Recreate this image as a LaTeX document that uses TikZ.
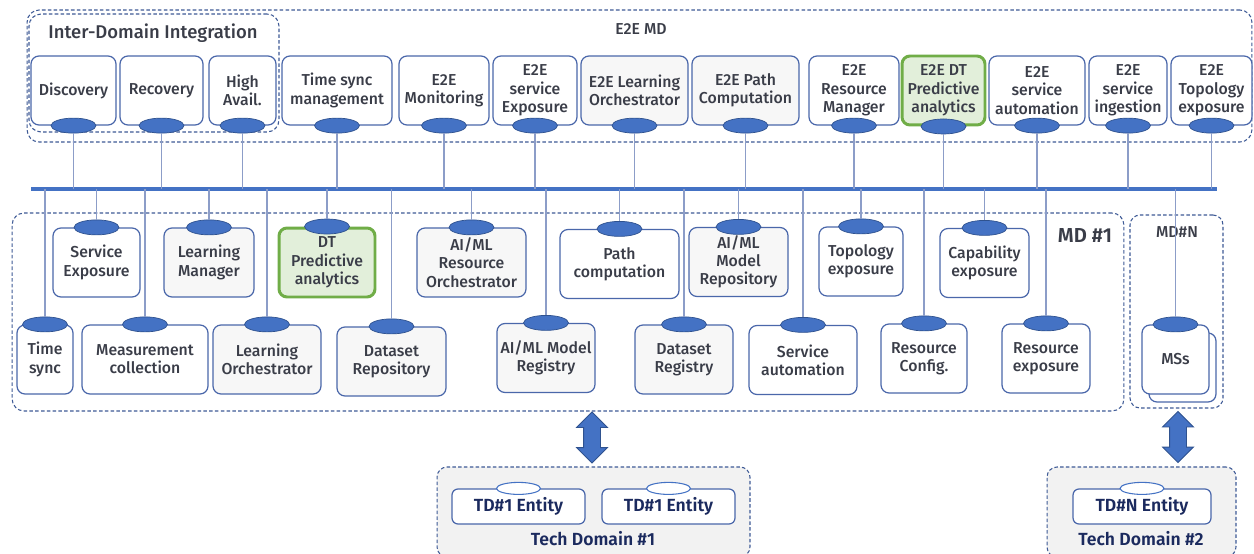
\documentclass[tikz,border=0pt]{standalone}
\usepackage{fontspec}
\setmainfont{Fira Sans}[UprightFont=* Medium, BoldFont=* SemiBold]
\usetikzlibrary{shapes.geometric, shapes.arrows}
\definecolor{boxline}{HTML}{4A67AA}
\definecolor{portfill}{HTML}{4472C4}
\definecolor{portline}{HTML}{2F528F}
\definecolor{txtgray}{HTML}{3A3D48}
\definecolor{navy}{HTML}{1B2A5E}
\definecolor{dtgreen}{HTML}{70AD47}
\definecolor{dtfill}{HTML}{E2EFDA}
\definecolor{wire}{HTML}{8C9DC8}
\definecolor{tdfill}{HTML}{F2F2F2}
\definecolor{dashline}{HTML}{3E5A96}
\tikzset{
    every node/.style = {font=\fontsize{9}{10.4}\selectfont, text=txtgray, align=center},
    func/.style = {draw=boxline, line width=0.7pt, rounded corners=0.16cm, fill=white,
        inner sep=1pt, minimum height=1.38cm},
    boxw/.style = {minimum width=#1cm},
    learn/.style = {func, fill=gray!6},
    dtbox/.style = {func, draw=dtgreen, line width=1.7pt, fill=dtfill},
    port/.style = {ellipse, draw=portline, line width=0.4pt, fill=portfill,
        minimum width=0.9cm, minimum height=0.3cm, inner sep=0pt},
    mdzone/.style = {draw=dashline, dash pattern=on 2pt off 1.3pt, line width=0.6pt,
        rounded corners=0.24cm, inner sep=0pt},
    bus/.style = {draw=portfill, line width=1.8pt},
    link/.style = {draw=wire, line width=0.6pt},
    updown/.style = {double arrow, rotate=90, draw=portline, line width=0.5pt, fill=portfill,
        minimum height=1.02cm, minimum width=0.6cm, double arrow head extend=0.14cm,
        inner xsep=0pt, inner ysep=0.16cm},
    techdom/.style = {mdzone, fill=tdfill, rounded corners=0.2cm},
    entity/.style = {draw=boxline, line width=0.7pt, rounded corners=0.12cm, fill=white,
        minimum height=0.7cm, text=navy, font=\fontsize{10}{12}\selectfont\bfseries},
    tdport/.style = {ellipse, draw=portfill, line width=0.6pt, fill=white,
        minimum width=0.88cm, minimum height=0.24cm, inner sep=0pt},
    tdlabel/.style = {text=navy, font=\fontsize{10}{12}\selectfont\bfseries}
}

\begin{document}
\begin{tikzpicture}[x=0.02cm, y=-0.02cm]
    \useasboundingbox[fill=white] (0,0) rectangle (1254,554);

    % domains
    \node[mdzone, minimum width=24.5cm, minimum height=2.64cm] (e2emd) at (639.5,76) {};
    \node[mdzone, minimum width=5cm, minimum height=2.36cm] (idi) at (154,73) {};
    \node[mdzone, minimum width=22.24cm, minimum height=3.96cm] (md1) at (568,312) {};
    \node[mdzone, minimum width=1.86cm, minimum height=3.86cm, rounded corners=0.2cm] (mdn) at (1176.5,311.5) {};
    \node (idiL) at (153,33) {\fontsize{10.5}{12}\selectfont Inter-Domain Integration};
    \node (e2eL) at (641,29) {E2E MD};
    \node (md1L) at (1085,236) {\fontsize{11.5}{13}\selectfont\bfseries MD \#1};
    \node (mdnL) at (1177,232) {MD\#N};

    % E2E MD functions
    \node[func, boxw=1.70] (disc) at (73.5,90.5) {Discovery};
    \node[func, boxw=1.66] (reco) at (161.5,90.5) {Recovery};
    \node[func, boxw=1.34] (havl) at (242.5,90.5) {High\\Avail.};
    \node[func, boxw=2.20] (tsm) at (337,90.5) {Time sync\\management};
    \node[func, boxw=1.80] (mon) at (444,90.5) {E2E\\Monitoring};
    \node[func, boxw=1.68] (sexp) at (535,90.5) {E2E\\service\\Exposure};
    \node[learn, boxw=2.14] (elo) at (634.5,90.5) {E2E Learning\\Orchestrator};
    \node[learn, boxw=2.14] (epc) at (745.5,90.5) {E2E Path\\Computation};
    \node[func, boxw=1.80] (erm) at (854,90.5) {E2E\\Resource\\Manager};
    \node[dtbox, boxw=1.66] (edt) at (943.5,90.5) {E2E DT\\Predictive\\analytics};
    \node[func, boxw=1.92] (esa) at (1037,90.5) {E2E\\service\\automation};
    \node[func, boxw=1.56] (esi) at (1128,90.5) {E2E\\service\\ingestion};
    \node[func, boxw=1.62] (ete) at (1211.5,90.5) {E2E\\Topology\\exposure};

    \node[port] (discP) at (disc.south) {};
    \node[port] (recoP) at (reco.south) {};
    \node[port] (havlP) at (havl.south) {};
    \node[port] (tsmP) at (tsm.south) {};
    \node[port] (monP) at (mon.south) {};
    \node[port] (sexpP) at (sexp.south) {};
    \node[port] (eloP) at (elo.south) {};
    \node[port] (epcP) at (epc.south) {};
    \node[port] (ermP) at (erm.south) {};
    \node[port] (edtP) at (edt.south) {};
    \node[port] (esaP) at (esa.south) {};
    \node[port] (esiP) at (esi.south) {};
    \node[port] (eteP) at (ete.south) {};

    % MD #1 functions
    \node[func, boxw=1.74] (svc) at (96.5,262.5) {Service\\Exposure};
    \node[learn, boxw=1.80] (lmgr) at (209,262.5) {Learning\\Manager};
    \node[dtbox, boxw=1.92] (dtp) at (327,262.5) {DT\\Predictive\\analytics};
    \node[learn, boxw=2.18] (aro) at (471.5,262.5) {AI/ML\\Resource\\Orchestrator};
    \node[func, boxw=2.38] (pc) at (619.5,264) {Path\\computation};
    \node[learn, boxw=1.98] (amr) at (738.5,262) {AI/ML\\Model\\Repository};
    \node[func, boxw=1.68] (tex) at (861,261.5) {Topology\\exposure};
    \node[func, boxw=1.78] (cex) at (984.5,263) {Capability\\exposure};

    \node[func, boxw=1.12] (tsy) at (45,359.5) {Time\\sync};
    \node[func, boxw=2.52] (meas) at (145,359.5) {Measurement\\collection};
    \node[learn, boxw=2.16] (lorc) at (267,359.5) {Learning\\Orchestrator};
    \node[learn, boxw=2.18] (dsrep) at (391.5,361.5) {Dataset\\Repository};
    \node[learn, boxw=1.96] (amreg) at (546,358) {AI/ML Model\\Registry};
    \node[learn, boxw=1.96] (dsreg) at (684,359.5) {Dataset\\Registry};
    \node[func, boxw=2.16] (sva) at (803,360) {Service\\automation};
    \node[func, boxw=1.72] (rcf) at (924,358.5) {Resource\\Config.};
    \node[func, boxw=1.76] (rex) at (1046,358.5) {Resource\\exposure};

    \node[func, boxw=1.34] (mssB) at (1182.5,367.5) {};
    \node[func, boxw=1.34] (mss) at (1175.5,359.5) {MSs};

    \node[port] (svcP) at (svc.north) {};
    \node[port] (lmgrP) at (lmgr.north) {};
    \node[port] (dtpP) at (dtp.north) {};
    \node[port] (aroP) at (aro.north) {};
    \node[port] (pcP) at (pc.north) {};
    \node[port] (amrP) at (amr.north) {};
    \node[port] (texP) at (tex.north) {};
    \node[port] (cexP) at (cex.north) {};
    \node[port] (tsyP) at (tsy.north) {};
    \node[port] (measP) at (meas.north) {};
    \node[port] (lorcP) at (lorc.north) {};
    \node[port] (dsrepP) at (dsrep.north) {};
    \node[port] (amregP) at (amreg.north) {};
    \node[port] (dsregP) at (dsreg.north) {};
    \node[port] (svaP) at (sva.north) {};
    \node[port] (rcfP) at (rcf.north) {};
    \node[port] (rexP) at (rex.north) {};
    \node[port] (mssP) at (mss.north) {};

    % bus and links
    \coordinate (busL) at (31,189);
    \coordinate (busR) at (1217,189);
    \draw[bus] (busL) -- (busR);

    \draw[link] (discP.south) -- (discP.south |- busL);
    \draw[link] (recoP.south) -- (recoP.south |- busL);
    \draw[link] (havlP.south) -- (havlP.south |- busL);
    \draw[link] (tsmP.south) -- (tsmP.south |- busL);
    \draw[link] (monP.south) -- (monP.south |- busL);
    \draw[link] (sexpP.south) -- (sexpP.south |- busL);
    \draw[link] (eloP.south) -- (eloP.south |- busL);
    \draw[link] (epcP.south) -- (epcP.south |- busL);
    \draw[link] (ermP.south) -- (ermP.south |- busL);
    \draw[link] (edtP.south) -- (edtP.south |- busL);
    \draw[link] (esaP.south) -- (esaP.south |- busL);
    \draw[link] (esiP.south) -- (esiP.south |- busL);
    \draw[link] (eteP.south) -- (eteP.south |- busL);

    \draw[link] (svcP.north) -- (svcP.north |- busL);
    \draw[link] (lmgrP.north) -- (lmgrP.north |- busL);
    \draw[link] (dtpP.north) -- (dtpP.north |- busL);
    \draw[link] (aroP.north) -- (aroP.north |- busL);
    \draw[link] (pcP.north) -- (pcP.north |- busL);
    \draw[link] (amrP.north) -- (amrP.north |- busL);
    \draw[link] (texP.north) -- (texP.north |- busL);
    \draw[link] (cexP.north) -- (cexP.north |- busL);
    \draw[link] (tsyP.north) -- (tsyP.north |- busL);
    \draw[link] (measP.north) -- (measP.north |- busL);
    \draw[link] (lorcP.north) -- (lorcP.north |- busL);
    \draw[link] (dsrepP.north) -- (dsrepP.north |- busL);
    \draw[link] (amregP.north) -- (amregP.north |- busL);
    \draw[link] (dsregP.north) -- (dsregP.north |- busL);
    \draw[link] (svaP.north) -- (svaP.north |- busL);
    \draw[link] (rcfP.north) -- (rcfP.north |- busL);
    \draw[link] (rexP.north) -- (rexP.north |- busL);
    \draw[link] (mssP.north) -- (mssP.north |- busL);

    % tech domains
    \node[updown] (arr1) at (592,437.5) {};
    \node[updown] (arr2) at (1178,437) {};

    \node[techdom, minimum width=6.26cm, minimum height=1.8cm] (td1) at (593.5,512) {};
    \node[techdom, minimum width=3.78cm, minimum height=1.8cm] (td2) at (1141.5,512) {};
    \node[entity, minimum width=2.66cm] (ent1a) at (518.5,506.5) {TD\#1 Entity};
    \node[entity, minimum width=2.66cm] (ent1b) at (668.5,506.5) {TD\#1 Entity};
    \node[entity, minimum width=2.76cm] (entN) at (1142,506.5) {TD\#N Entity};
    \node[tdport] (ent1aP) at (ent1a.north) {};
    \node[tdport] (ent1bP) at (ent1b.north) {};
    \node[tdport] (entNP) at (entN.north) {};
    \node[tdlabel] (td1L) at (593,539) {Tech Domain \#1};
    \node[tdlabel] (td2L) at (1141,539) {Tech Domain \#2};
\end{tikzpicture}
\end{document}
